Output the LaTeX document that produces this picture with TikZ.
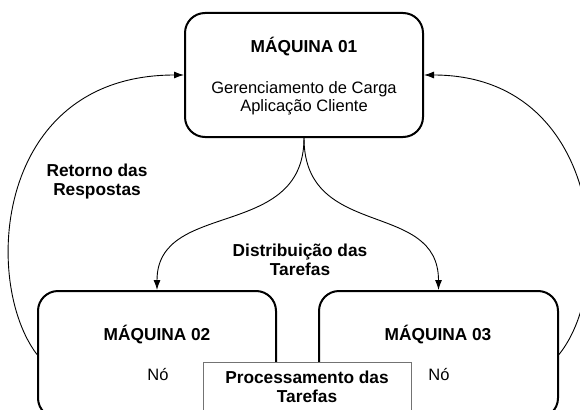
\documentclass[tikz,border=0pt]{standalone}
\usepackage{fontspec}
\setmainfont{Liberation Sans}
\usetikzlibrary{arrows.meta}
\begin{document}
\begin{tikzpicture}[x=1pt,y=-1pt,
  box/.style={draw=black, line width=2pt, rounded corners=20pt, fill=white, inner sep=0pt},
  procbox/.style={draw=black!55, line width=1pt, fill=white, inner sep=0pt},
  lbl/.style={anchor=base, inner sep=0pt, font=\fontsize{16.5}{19}\selectfont},
  blbl/.style={anchor=base, inner sep=0pt, font=\fontsize{17.3}{19}\selectfont\bfseries},
  conn/.style={draw=black, line width=0.9pt, -{Latex[length=10pt,width=7pt]}}
]
\useasboundingbox (0,0) rectangle (580,409);
\clip (0,0) rectangle (580,409);

% boxes
\node[box, minimum width=238pt, minimum height=124pt] (m1) at (304,75) {};
\node[box, minimum width=238pt, minimum height=127pt] (m2) at (157,354.5) {};
\node[box, minimum width=239pt, minimum height=127pt] (m3) at (438.5,354.5) {};

% connectors
\draw[conn] (m1.south) .. controls +(0,103) and +(0,-91) .. (m2.north);
\draw[conn] (m1.south) .. controls +(0,103) and +(0,-91) .. (m3.north);
\draw[conn] (m2.west) .. controls +(-55,-72) and +(-190,0) .. (m1.west);
\draw[conn] (m3.east) .. controls +(58,-72) and +(177,0) .. (m1.east);

% processing box
\node[procbox, minimum width=208pt, minimum height=70pt] (proc) at (307,397) {};

% texts
\node[blbl] (t1) at (304,53) {MÁQUINA 01};
\node[lbl] (t2) at (304,94) {Gerenciamento de Carga};
\node[lbl] (t3) at (304,111) {Aplicação Cliente};

\node[blbl] (t4) at (157,340) {MÁQUINA 02};
\node[lbl] (t5) at (158,380) {Nó};
\node[blbl] (t6) at (438,340) {MÁQUINA 03};
\node[lbl] (t7) at (439,380) {Nó};

\node[blbl] (t8) at (307,383) {Processamento das};
\node[blbl] (t9) at (307,402) {Tarefas};

\node[blbl] (t10) at (97,176) {Retorno das};
\node[blbl] (t11) at (97,195) {Respostas};

\node[blbl] (t12) at (300,256) {Distribuição das};
\node[blbl] (t13) at (300,275) {Tarefas};
\end{tikzpicture}
\end{document}
